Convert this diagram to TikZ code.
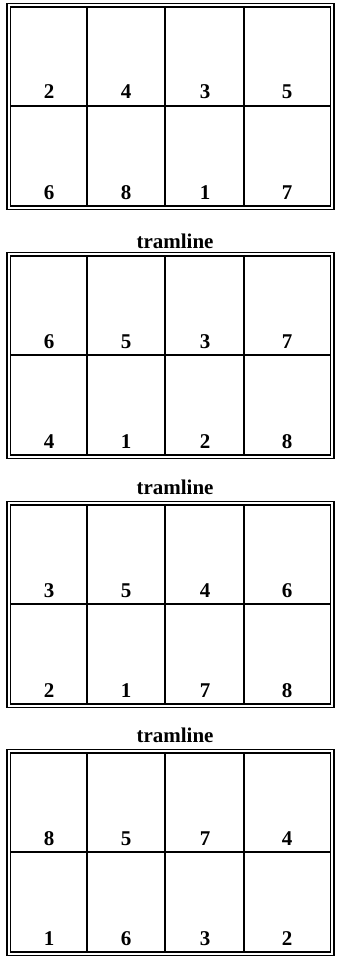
\documentclass[tikz,border=0pt]{standalone}
\usepackage{fontspec}
\setmainfont{Liberation Serif}
\usetikzlibrary{positioning}
\begin{document}
\begin{tikzpicture}[x=1pt, y=-1pt, every node/.style={font=\fontsize{21}{21}\selectfont\bfseries}, frame/.style={draw, line width=1.3pt}, inframe/.style={draw, line width=1.8pt}, cellline/.style={draw, line width=1.2pt}, num/.style={anchor=base, inner sep=0pt}, tram/.style={anchor=base, inner sep=0pt}]
\useasboundingbox (0,0) rectangle (338,960);
% four sheets, each 2 x 4 pages
\foreach \t/\upper/\lower [count=\k] in {7/{2,4,3,5}/{6,8,1,7}, 256/{6,5,3,7}/{4,1,2,8}, 505/{3,5,4,6}/{2,1,7,8}, 753/{8,5,7,4}/{1,6,3,2}} {
  \draw[frame] (7,\t-3.5) rectangle (334,\t+202.5);
  \draw[inframe] (10.5,\t) rectangle (330.5,\t+199);
  \draw[cellline] (10.5,\t+99) -- (330.5,\t+99);
  \foreach \x in {87,165,244} \draw[cellline] (\x,\t) -- (\x,\t+199);
  \foreach \v [count=\j] in \upper {
    \pgfmathsetmacro\cx{{49,126,205,287}[\j-1]}
    \node[num] (up\k\j) at (\cx,\t+92) {\v};
  }
  \foreach \v [count=\j] in \lower {
    \pgfmathsetmacro\cx{{49,126,205,287}[\j-1]}
    \node[num] (lo\k\j) at (\cx,\t+192) {\v};
  }
}
\node[tram] (tram1) at (175,248) {tramline};
\node[tram] (tram2) at (175,494) {tramline};
\node[tram] (tram3) at (175,742) {tramline};
\end{tikzpicture}
\end{document}
